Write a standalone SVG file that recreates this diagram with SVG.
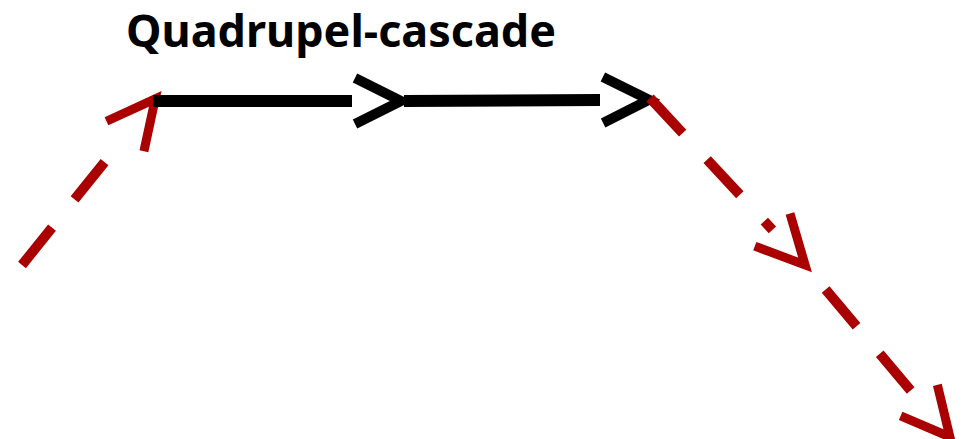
<svg xmlns="http://www.w3.org/2000/svg" width="963" height="439" viewBox="0 0 963 439">
<style>
.title{font-family:"Noto Sans","Open Sans","DejaVu Sans",sans-serif;font-weight:bold;font-size:45px;fill:#000}
.solid{fill:none;stroke:#000;stroke-width:12}
.dashed{fill:none;stroke:#aa0000;stroke-width:10;stroke-dasharray:48 36}
</style>
<defs>
<marker id="blackHead" markerUnits="userSpaceOnUse" markerWidth="60" markerHeight="60" viewBox="-5 -30 60 60" refX="0" refY="0" orient="auto" overflow="visible">
<path d="M3,-23 L49,0 L3,23" fill="none" stroke="#000" stroke-width="10" stroke-linejoin="miter"/>
</marker>
<marker id="redHead" markerUnits="userSpaceOnUse" markerWidth="60" markerHeight="60" viewBox="-5 -30 60 60" refX="0" refY="0" orient="auto" overflow="visible">
<path d="M0,-24 L48,0 L0,24" fill="none" stroke="#aa0000" stroke-width="9" stroke-linejoin="miter"/>
</marker>
</defs>
<g id="title-node">
<text class="title" x="341" y="47" text-anchor="middle" textLength="430" lengthAdjust="spacingAndGlyphs">Quadrupel-cascade</text>
</g>
<g id="connectors">
<path class="dashed" d="M22,265 L125.2,136.3" marker-end="url(#redHead)"/>
<path class="solid" d="M153,101 L352,101" marker-end="url(#blackHead)"/>
<path class="solid" d="M404,101 L600,100" marker-end="url(#blackHead)"/>
<path class="dashed" d="M650,98 L772.4,229.8" marker-end="url(#redHead)"/>
<path class="dashed" style="stroke-dashoffset:52" d="M805,265 L919,400.3" marker-end="url(#redHead)"/>
</g>
</svg>
